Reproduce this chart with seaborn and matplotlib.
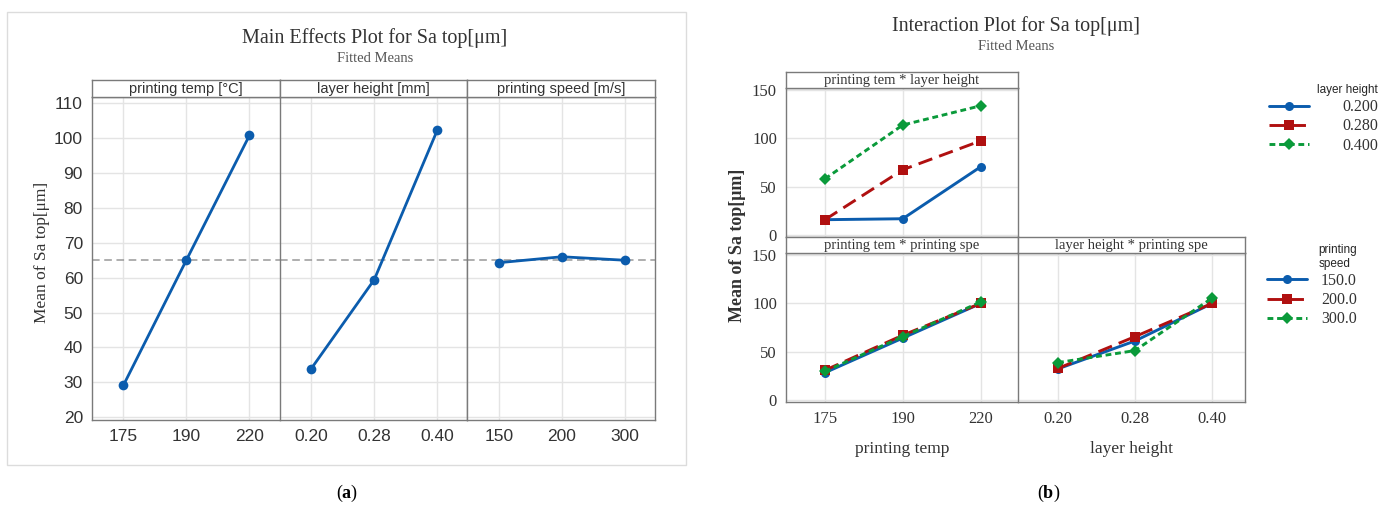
import pandas as pd
import matplotlib.pyplot as plt
import seaborn as sns
from matplotlib.patches import Rectangle

# factor levels
temp_levels = ["175", "190", "220"]
layer_levels = ["0.20", "0.28", "0.40"]
speed_levels = ["150", "200", "300"]

# main effects (fitted means)
main_temp = [29.2, 65.1, 100.8]
main_layer = [33.9, 59.4, 102.2]
main_speed = [64.3, 66.0, 65.0]
overall_mean = 65.2

# interaction: printing temp * layer height
tl_020 = [15.5, 16.5, 70.5]
tl_028 = [15.5, 67.5, 97.5]
tl_040 = [58.0, 114.0, 134.0]
# interaction: printing temp * printing speed
ts_150 = [28.0, 64.0, 100.0]
ts_200 = [30.5, 67.0, 100.0]
ts_300 = [29.5, 65.5, 101.5]
# interaction: layer height * printing speed
ls_150 = [32.0, 61.0, 100.0]
ls_200 = [32.5, 65.5, 100.0]
ls_300 = [38.5, 51.0, 105.5]

layer_names = ["0.200", "0.280", "0.400"]
speed_names = ["150.0", "200.0", "300.0"]

BLUE = "#0b5cad"
RED = "#b01010"
GREEN = "#0a9a3a"
EDGE = "#7a7a7a"
GRID = "#e4e4e4"
TXT = "#333333"

sns.set_style("white")
plt.rcParams["font.family"] = ["Liberation Serif", "DejaVu Serif"]
plt.rcParams["mathtext.fontset"] = "custom"
plt.rcParams["mathtext.rm"] = "Liberation Serif"
plt.rcParams["mathtext.bf"] = "Liberation Serif:bold"

SANS = ["Liberation Sans Narrow", "Liberation Sans", "DejaVu Sans"]

W, H = 1391, 507
fig = plt.figure(figsize=(W / 100, H / 100), dpi=100)


def box(x0, y0, x1, y1):
    return [x0 / W, 1 - y1 / H, (x1 - x0) / W, (y1 - y0) / H]


def style_ax(ax, ylim, yticks, show_y, tick_font, tick_size):
    ax.set_xlim(-0.5, 2.48)
    ax.set_ylim(*ylim)
    ax.set_yticks(yticks)
    ax.grid(True, color=GRID, linewidth=1)
    ax.set_axisbelow(True)
    for s in ax.spines.values():
        s.set_color(EDGE)
        s.set_linewidth(1)
    ax.tick_params(axis="both", length=3, color=EDGE, labelcolor=TXT, labelsize=tick_size)
    if not show_y:
        ax.tick_params(axis="y", length=0, labelleft=False)
    for lab in ax.get_xticklabels() + ax.get_yticklabels():
        lab.set_family(tick_font)
    ax.set_xlabel("")
    ax.set_ylabel("")


def strip(rect, label, font, size):
    s = fig.add_axes(rect)
    s.set_xticks([])
    s.set_yticks([])
    for sp in s.spines.values():
        sp.set_color(EDGE)
        sp.set_linewidth(1)
    s.text(0.5, 0.45, label, ha="center", va="center", family=font, fontsize=size, color=TXT)


# ---------------- (a) main effects ----------------
fig.patches.append(Rectangle((7 / W, 1 - 465 / H), 679 / W, 453 / H, transform=fig.transFigure,
                             fill=False, edgecolor="#dcdcdc", linewidth=1))
fig.text(375 / W, 1 - 38 / H, "Main Effects Plot for Sa top[μm]", ha="center", va="center",
         fontsize=14.5, color=TXT)
fig.text(375 / W, 1 - 59 / H, "Fitted Means", ha="center", va="center", fontsize=10.5, color="#555555")

main_sets = [
    ("printing temp [°C]", temp_levels, main_temp),
    ("layer height [mm]", layer_levels, main_layer),
    ("printing speed [m/s]", speed_levels, main_speed),
]
for i, (name, levels, vals) in enumerate(main_sets):
    x0 = 92 + 187.7 * i
    ax = fig.add_axes(box(x0, 97, x0 + 187.7, 420))
    df = pd.DataFrame({"pos": range(3), "mean": vals})
    ax.axhline(overall_mean, color="#999999", linestyle=(0, (5, 3)), linewidth=1.1, zorder=1)
    sns.lineplot(data=df, x="pos", y="mean", ax=ax, color=BLUE, marker="o", markersize=7,
                 markeredgewidth=0, linewidth=2)
    ax.set_xticks(range(3))
    ax.set_xticklabels(levels)
    style_ax(ax, (19.2, 111.8), range(20, 111, 10), i == 0, SANS, 12.5)
    if i == 0:
        ax.spines["right"].set_visible(False)
    strip(box(x0, 80, x0 + 187.7, 97), name, SANS, 10.5)

fig.text(42 / W, 1 - 252 / H, "Mean of Sa top[μm]", rotation=90, ha="center", va="center",
         fontsize=12.5, color=TXT)


# ---------------- (b) interaction plot ----------------
def interaction(ax, levels, series, names, legend):
    rows = []
    for nm, vals in zip(names, series):
        for p, v in enumerate(vals):
            rows.append({"pos": p, "value": v, "group": nm})
    df = pd.DataFrame(rows)
    sns.lineplot(data=df, x="pos", y="value", hue="group", style="group", ax=ax,
                 palette=dict(zip(names, [BLUE, RED, GREEN])),
                 markers=dict(zip(names, ["o", "s", "D"])),
                 dashes=dict(zip(names, ["", (5, 2.5), (2, 1.3)])),
                 markersize=6.5, markeredgewidth=0, linewidth=2.1, legend=legend)
    ax.set_xticks(range(3))
    ax.set_xticklabels(levels)
    style_ax(ax, (-2.5, 152.5), [0, 50, 100, 150], False, ["Liberation Serif"], 12)


SERIF_N = ["Liberation Serif"]
fig.text(1016 / W, 1 - 26 / H, "Interaction Plot for Sa top[μm]", ha="center", va="center",
         fontsize=14.5, color=TXT)
fig.text(1016 / W, 1 - 46 / H, "Fitted Means", ha="center", va="center", fontsize=10.5, color="#555555")

ax_tl = fig.add_axes(box(786, 88, 1018, 237))
interaction(ax_tl, temp_levels, [tl_020, tl_028, tl_040], layer_names, True)
ax_tl.tick_params(axis="y", length=3, labelleft=True)
ax_tl.tick_params(axis="x", length=0, labelbottom=False)
h1, l1 = ax_tl.get_legend_handles_labels()
ax_tl.get_legend().remove()
strip(box(786, 72, 1018, 88), "printing tem * layer height", SERIF_N, 10.5)

ax_bl = fig.add_axes(box(786, 253, 1018, 402))
interaction(ax_bl, temp_levels, [ts_150, ts_200, ts_300], speed_names, True)
ax_bl.tick_params(axis="y", length=3, labelleft=True)
ax_bl.spines["right"].set_visible(False)
h2, l2 = ax_bl.get_legend_handles_labels()
ax_bl.get_legend().remove()
ax_bl.set_xlabel("printing temp", fontsize=12.5, color=TXT, labelpad=10)
strip(box(786, 237, 1018, 253), "printing tem * printing spe", SERIF_N, 10.5)

ax_br = fig.add_axes(box(1018, 253, 1245, 402))
interaction(ax_br, layer_levels, [ls_150, ls_200, ls_300], speed_names, False)
ax_br.set_xlim(-0.52, 2.43)
ax_br.set_xlabel("layer height", fontsize=12.5, color=TXT, labelpad=10)
strip(box(1018, 237, 1245, 253), "layer height * printing spe", SERIF_N, 10.5)

for ax in (ax_tl, ax_bl):
    for lab in ax.get_yticklabels():
        lab.set_family(SERIF_N)

fig.text(737 / W, 1 - 245 / H, "Mean of Sa top[μm]", rotation=90, ha="center", va="center",
         fontsize=13, fontweight="bold", color=TXT)

leg1 = fig.legend(h1, l1, title="layer height", loc="upper right", bbox_to_anchor=(1378 / W, 1 - 84 / H),
                  frameon=False, fontsize=11.5, handlelength=2.5, handletextpad=2.1, labelspacing=0.2,
                  borderpad=0, borderaxespad=0,
                  title_fontproperties={"family": SANS, "size": 8.5})
leg1._legend_box.align = "right"
leg2 = fig.legend(h2, l2, title="printing\nspeed", loc="upper right", bbox_to_anchor=(1357 / W, 1 - 244 / H),
                  frameon=False, fontsize=11.5, handlelength=2.5, handletextpad=0.9, labelspacing=0.2,
                  borderpad=0, borderaxespad=0,
                  title_fontproperties={"family": SANS, "size": 8.5})
leg2._legend_box.align = "right"
for lg in (leg1, leg2):
    for t in lg.get_texts():
        t.set_color(TXT)

fig.text(347 / W, 1 - 493 / H, r"($\mathbf{a}$)", ha="center", va="center", fontsize=13, color="black")
fig.text(1049 / W, 1 - 493 / H, r"($\mathbf{b}$)", ha="center", va="center", fontsize=13, color="black")

fig.savefig("out.png", dpi=100)
